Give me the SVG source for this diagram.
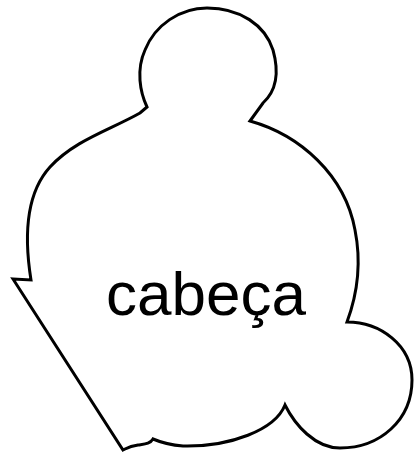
<svg xmlns="http://www.w3.org/2000/svg" width="414" height="452" viewBox="0 0 414 452">
<style>
.shape{fill:#ffffff;stroke:#000000;stroke-width:3;stroke-linejoin:miter}
.lbl{font-family:"Liberation Sans",Arial,sans-serif;font-size:62px;fill:#000000;text-anchor:middle}
</style>
<rect width="414" height="452" fill="#ffffff"/>
<g id="cabeca">
<path class="shape" d="M13,279 L31,280 C27,255 20,200 50,167 C75,140 110,130 140,113 L147,107 C140,92 136,70 145,50 C155,25 180,8 207,8 C240,8 265,25 273,50 C280,75 275,92 263,103 L250,121 C300,135 345,175 355,230 C362,265 357,295 347,322 C380,322 412,345 412,380 C412,420 380,448 340,448 C315,448 295,425 285,405 C275,430 230,447 183,446 C170,445 160,442 153,439 C150,444 145,444 138,445 C130,446 127,448 123,450 Z"/>
<text class="lbl" x="206" y="315">cabeça</text>
</g>
<g id="connectors"/>
</svg>
